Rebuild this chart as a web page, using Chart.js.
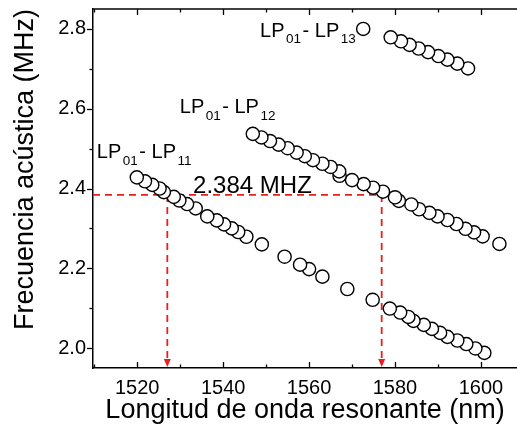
<!DOCTYPE html>
<html>
<head>
<meta charset="utf-8">
<script src="https://cdn.jsdelivr.net/npm/chart.js@4/dist/chart.umd.min.js"></script>
<style>
  html, body { margin: 0; padding: 0; background: #fff; overflow: hidden; }
  canvas { display: block; }
</style>
</head>
<body>
<canvas id="c" width="517" height="432"></canvas>
<script>
// Resonant wavelength (nm) and acoustic frequency (MHz) for each mode pair
const wlLP11 = [1519.9, 1521.8, 1523.5, 1525.2, 1526.2, 1528.5, 1529.8, 1531.6, 1533.6, 1536.3,
                1538.5, 1540.2, 1542.0, 1543.5, 1545.4, 1549.0, 1554.3, 1557.9, 1560.0, 1563.1,
                1568.9, 1574.8, 1578.8, 1581.2, 1583.1, 1584.3, 1586.7, 1588.6, 1590.5, 1592.2,
                1594.5, 1596.6, 1598.7, 1600.8];
const fLP11  = [2.428, 2.418, 2.409, 2.400, 2.391, 2.379, 2.370, 2.361, 2.350, 2.330,
                2.320, 2.310, 2.300, 2.291, 2.279, 2.260, 2.229, 2.209, 2.198, 2.179,
                2.148, 2.121, 2.099, 2.089, 2.078, 2.068, 2.058, 2.048, 2.038, 2.028,
                2.019, 2.010, 1.999, 1.988];

const wlLP12 = [1546.9, 1548.9, 1550.9, 1552.9, 1555.0, 1557.1, 1559.0, 1560.9, 1563.1, 1565.0,
                1567.0, 1567.1, 1570.0, 1572.7, 1574.9, 1577.2, 1580.0, 1580.9, 1583.8, 1585.6,
                1588.0, 1589.9, 1592.2, 1594.3, 1596.4, 1598.4, 1600.4, 1604.3];
const fLP12  = [2.537, 2.528, 2.519, 2.510, 2.501, 2.490, 2.481, 2.471, 2.462, 2.454,
                2.443, 2.432, 2.421, 2.411, 2.402, 2.392, 2.378, 2.369, 2.360, 2.348,
                2.339, 2.330, 2.321, 2.311, 2.299, 2.290, 2.280, 2.261];

const wlLP13 = [1572.6, 1579.0, 1581.4, 1583.4, 1585.5, 1587.7, 1590.1, 1592.2, 1594.5, 1597.0];
const fLP13  = [2.800, 2.779, 2.769, 2.760, 2.751, 2.742, 2.732, 2.723, 2.713, 2.701];

// Axis ticks
const xTicks = [1520, 1540, 1560, 1580, 1600];
const yTicks = [2.0, 2.2, 2.4, 2.6, 2.8];

// Marked frequency and the two wavelengths it crosses
const markFreq = 2.384;
const markWl = [1527.0, 1576.9];
const markText = '2.384 MHZ';

// Mode labels: [main, subscript, middle, subscript]
const modeLabels = [
  { parts: ['LP', '01', '- LP', '11'], at: [1510.6, 2.476] },
  { parts: ['LP', '01', '- LP', '12'], at: [1529.9, 2.589] },
  { parts: ['LP', '01', '- LP', '13'], at: [1548.6, 2.781] }
];

const FONT = '"Liberation Sans", Arial, sans-serif';

function toPoints(xs, ys) {
  // drawn right to left so the lower-wavelength circles sit on top
  return xs.map((x, i) => ({ x, y: ys[i] })).reverse();
}

function series(label, xs, ys) {
  return {
    label,
    data: toPoints(xs, ys),
    pointStyle: 'circle',
    pointRadius: 6.6,
    pointBorderWidth: 1.4,
    pointBackgroundColor: '#fff',
    pointBorderColor: '#000',
    showLine: false
  };
}

const overlay = {
  id: 'overlay',
  beforeDatasetsDraw(chart) {
    const { ctx, chartArea: a, scales: { x, y } } = chart;
    const yp = y.getPixelForValue(markFreq);
    const x1 = x.getPixelForValue(markWl[0]);
    const x2 = x.getPixelForValue(markWl[1]);
    ctx.save();
    ctx.strokeStyle = '#ee1c1c';
    ctx.fillStyle = '#ee1c1c';
    ctx.lineWidth = 1.8;
    ctx.setLineDash([7, 5]);
    ctx.beginPath();
    ctx.moveTo(a.left, yp); ctx.lineTo(x2, yp);
    ctx.stroke();
    [x1, x2].forEach(px => {
      ctx.beginPath();
      ctx.moveTo(px, yp); ctx.lineTo(px, a.bottom - 7);
      ctx.stroke();
    });
    ctx.setLineDash([]);
    [x1, x2].forEach(px => {
      ctx.beginPath();
      ctx.moveTo(px - 3.5, a.bottom - 9);
      ctx.lineTo(px + 3.5, a.bottom - 9);
      ctx.lineTo(px, a.bottom - 1);
      ctx.closePath();
      ctx.fill();
    });
    ctx.restore();
  },
  afterDraw(chart) {
    const { ctx, chartArea: a, scales: { x, y } } = chart;
    ctx.save();
    ctx.strokeStyle = '#000';
    ctx.lineWidth = 1.3;
    // top frame line
    ctx.beginPath();
    ctx.moveTo(a.left, a.top); ctx.lineTo(a.right, a.top);
    ctx.stroke();
    // x ticks, inward on bottom and top
    for (let v = 1510; v <= 1610; v += 10) {
      const px = Math.round(x.getPixelForValue(v)) + 0.5;
      if (px < a.left + 1 || px > a.right - 1) continue;
      const len = v % 20 === 0 ? 6 : 3.5;
      ctx.beginPath();
      ctx.moveTo(px, a.bottom); ctx.lineTo(px, a.bottom - len);
      ctx.moveTo(px, a.top); ctx.lineTo(px, a.top + len);
      ctx.stroke();
    }
    // y ticks, outward on the left
    for (let k = 20; k <= 28; k++) {
      const py = Math.round(y.getPixelForValue(k / 10)) + 0.5;
      const len = k % 2 === 0 ? 6 : 3.5;
      ctx.beginPath();
      ctx.moveTo(a.left - len, py); ctx.lineTo(a.left, py);
      ctx.stroke();
    }
    // frequency label above the dashed line
    ctx.fillStyle = '#000';
    ctx.font = '24px ' + FONT;
    ctx.textBaseline = 'alphabetic';
    ctx.fillText(markText, x.getPixelForValue(1533.0), y.getPixelForValue(markFreq) - 2);
    // mode labels with subscripts
    modeLabels.forEach(l => {
      let px = x.getPixelForValue(l.at[0]);
      const py = y.getPixelForValue(l.at[1]);
      l.parts.forEach((t, i) => {
        const sub = i % 2 === 1;
        ctx.font = (sub ? '13.5px ' : '20px ') + FONT;
        if (sub) px += 1.5;
        ctx.fillText(t, px, py + (sub ? 6.7 : 0));
        px += ctx.measureText(t).width + (sub ? 1.5 : 0);
      });
    });
    ctx.restore();
  }
};

new Chart(document.getElementById('c'), {
  type: 'scatter',
  data: {
    datasets: [
      series('LP01-LP11', wlLP11, fLP11),
      series('LP01-LP12', wlLP12, fLP12),
      series('LP01-LP13', wlLP13, fLP13)
    ]
  },
  options: {
    responsive: false,
    devicePixelRatio: 1,
    animation: false,
    events: [],
    layout: { autoPadding: false, padding: { top: 9, right: 0, left: 0, bottom: 0 } },
    plugins: { legend: { display: false }, tooltip: { enabled: false } },
    scales: {
      x: {
        type: 'linear',
        min: 1509.7,
        max: 1608.4,
        afterFit: s => { s.height = 64; s.paddingLeft = 0; s.paddingRight = 0; },
        afterBuildTicks: s => { s.ticks = xTicks.map(v => ({ value: v })); },
        grid: { display: false, drawTicks: true, tickLength: 0 },
        border: { display: true, color: '#000', width: 1.5 },
        ticks: {
          padding: 8,
          color: '#000',
          font: { family: FONT, size: 20 },
          maxRotation: 0,
          callback: v => String(v)
        },
        title: {
          display: true,
          text: 'Longitud de onda resonante (nm)',
          color: '#000',
          font: { family: FONT, size: 27 },
          padding: { top: 0, bottom: 5 }
        }
      },
      y: {
        type: 'linear',
        min: 1.95,
        max: 2.85,
        afterFit: s => { s.width = 93; s.paddingTop = 0; s.paddingBottom = 0; },
        afterBuildTicks: s => { s.ticks = yTicks.map(v => ({ value: v })); },
        grid: { display: false, drawTicks: true, tickLength: 6 },
        border: { display: true, color: '#000', width: 1.5 },
        ticks: {
          padding: 1,
          color: '#000',
          font: { family: FONT, size: 20 },
          callback: v => Number(v).toFixed(1)
        },
        title: {
          display: true,
          text: 'Frecuencia acústica (MHz)',
          align: 'end',
          color: '#000',
          font: { family: FONT, size: 27 },
          padding: { top: 9, bottom: 0 }
        }
      }
    }
  },
  plugins: [overlay]
});
</script>
</body>
</html>
